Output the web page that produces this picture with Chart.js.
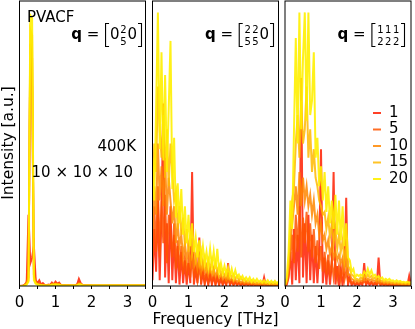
<!DOCTYPE html>
<html>
<head>
<meta charset="utf-8">
<script src="https://cdn.jsdelivr.net/npm/chart.js@4.4.0/dist/chart.umd.min.js"></script>
<style>
  body { margin: 0; background: #fff; width: 415px; height: 329px; position: relative; overflow: hidden; }
  canvas { position: absolute; top: 0; }
</style>
</head>
<body>
<canvas id="c1" width="160" height="329" style="left:0px"></canvas>
<canvas id="c2" width="146" height="329" style="left:146px"></canvas>
<canvas id="c3" width="136" height="329" style="left:279px"></canvas>
<script>
// frequency grid [THz]
const freq = [
  0.00, 0.05, 0.10, 0.15, 0.20, 0.25, 0.30, 0.35, 0.40, 0.45,
  0.50, 0.55, 0.60, 0.65, 0.70, 0.75, 0.80, 0.85, 0.90, 0.95,
  1.00, 1.05, 1.10, 1.15, 1.20, 1.25, 1.30, 1.35, 1.40, 1.45,
  1.50, 1.55, 1.60, 1.65, 1.70, 1.75, 1.80, 1.85, 1.90, 1.95,
  2.00, 2.05, 2.10, 2.15, 2.20, 2.25, 2.30, 2.35, 2.40, 2.45,
  2.50, 2.55, 2.60, 2.65, 2.70, 2.75, 2.80, 2.85, 2.90, 2.95,
  3.00, 3.05, 3.10, 3.15, 3.20, 3.25, 3.30, 3.35, 3.40, 3.45,
  3.50
];
const runs = ['1', '5', '10', '15', '20'];
const runColors = ['rgba(255,30,0,0.85)', 'rgba(255,85,0,0.85)', 'rgba(255,135,0,0.85)', 'rgba(255,185,0,0.85)', 'rgba(255,240,0,0.9)'];
const xTicks = [0, 1, 2, 3];

// panel A: q = [0 2/5 0]
const qA_1 = [
  0, 0.1, 0.2, 0.5, 1, 25, 8, 10, 14, 2,
  1, 2, 0.5, 1, 0.4, 0.2, 0.5, 0.3, 1.2, 0.5,
  1.5, 0.8, 1.2, 0.3, 0.2, 0.3, 0.2, 0.3, 0.2, 0.2,
  0.2, 0.3, 0.5, 2.5, 1, 0.3, 0.2, 0.2, 0.2, 0.2,
  0.1, 0.1, 0.1, 0.1, 0.1, 0.1, 0.1, 0.1, 0.1, 0.1,
  0.1, 0.1, 0.1, 0.1, 0.1, 0.1, 0.1, 0.1, 0.1, 0.1,
  0.1, 0.1, 0.1, 0.1, 0.1, 0.1, 0.1, 0.1, 0.1, 0.1,
  0.1
];
const qA_5 = [
  0, 0, 0.1, 0.5, 1.5, 6, 80, 70, 6, 1.5,
  1, 0.8, 0.5, 0.4, 0.3, 0.2, 0.3, 0.4, 0.8, 0.7,
  1, 0.8, 0.8, 0.4, 0.2, 0.2, 0.2, 0.2, 0.2, 0.2,
  0.2, 0.2, 0.5, 1.2, 0.8, 0.3, 0.2, 0.2, 0.2, 0.2,
  0.15, 0.15, 0.15, 0.15, 0.15, 0.15, 0.15, 0.15, 0.15, 0.15,
  0.15, 0.15, 0.15, 0.15, 0.15, 0.15, 0.15, 0.15, 0.15, 0.15,
  0.15, 0.15, 0.15, 0.15, 0.15, 0.15, 0.15, 0.15, 0.15, 0.15,
  0.15
];
const qA_10 = [
  0, 0, 0, 0.4, 1, 3, 85, 80, 4, 1.2,
  0.8, 0.5, 0.4, 0.3, 0.3, 0.2, 0.3, 0.3, 0.6, 0.6,
  0.8, 0.6, 0.6, 0.3, 0.2, 0.2, 0.2, 0.2, 0.2, 0.2,
  0.2, 0.2, 0.4, 0.9, 0.7, 0.3, 0.2, 0.2, 0.2, 0.2,
  0.2, 0.2, 0.2, 0.2, 0.2, 0.2, 0.2, 0.2, 0.2, 0.2,
  0.2, 0.2, 0.2, 0.2, 0.2, 0.2, 0.2, 0.2, 0.2, 0.2,
  0.2, 0.2, 0.2, 0.2, 0.2, 0.2, 0.2, 0.2, 0.2, 0.2,
  0.2
];
const qA_15 = [
  0, 0, 0, 0.3, 0.8, 2, 90, 88, 3, 1,
  0.6, 0.4, 0.3, 0.3, 0.2, 0.2, 0.2, 0.3, 0.5, 0.5,
  0.6, 0.5, 0.5, 0.3, 0.2, 0.2, 0.2, 0.2, 0.2, 0.2,
  0.2, 0.2, 0.3, 0.7, 0.6, 0.2, 0.2, 0.2, 0.2, 0.2,
  0.2, 0.2, 0.2, 0.2, 0.2, 0.2, 0.2, 0.2, 0.2, 0.2,
  0.2, 0.2, 0.2, 0.2, 0.2, 0.2, 0.2, 0.2, 0.2, 0.2,
  0.2, 0.2, 0.2, 0.2, 0.2, 0.2, 0.2, 0.2, 0.2, 0.2,
  0.2
];
const qA_20 = [
  0, 0, 0, 0.2, 0.5, 1.5, 95, 94, 2, 0.8,
  0.5, 0.3, 0.3, 0.2, 0.2, 0.2, 0.2, 0.2, 0.4, 0.4,
  0.5, 0.4, 0.4, 0.2, 0.2, 0.2, 0.2, 0.2, 0.2, 0.2,
  0.2, 0.2, 0.2, 0.5, 0.5, 0.2, 0.2, 0.2, 0.2, 0.2,
  0.2, 0.2, 0.2, 0.2, 0.2, 0.2, 0.2, 0.2, 0.2, 0.2,
  0.2, 0.2, 0.2, 0.2, 0.2, 0.2, 0.2, 0.2, 0.2, 0.2,
  0.2, 0.2, 0.2, 0.2, 0.2, 0.2, 0.2, 0.2, 0.2, 0.2,
  0.2
];

// panel B: q = [2/5 2/5 0]
const qB_1 = [
  2, 20, 5, 30, 2, 25, 64, 3, 22, 1,
  28, 2, 18, 1, 14, 0.5, 12, 1, 9, 0.5,
  8, 1, 40, 0.5, 6, 1, 17, 0.5, 5, 0.5,
  4, 0.3, 4, 0.5, 3.5, 0.3, 3, 0.3, 2.5, 0.3,
  2, 0.2, 8, 0.2, 1.8, 0.2, 1.5, 0.2, 1.2, 0.1,
  1, 0.1, 0.9, 0.1, 0.8, 0.1, 0.7, 0.1, 0.6, 0.1,
  0.6, 0.1, 3, 0.1, 0.5, 0.1, 0.4, 0.1, 0.4, 0.1,
  0.3
];
const qB_5 = [
  8, 28, 12, 35, 10, 30, 15, 32, 8, 25,
  18, 10, 22, 6, 16, 5, 14, 4, 10, 4,
  9, 3, 10, 3, 7, 2, 7, 2, 6, 1.5,
  5, 1.5, 5, 1.5, 4, 1, 4, 1, 3, 1,
  2.5, 0.8, 2, 0.8, 2, 0.6, 1.5, 0.6, 1.3, 0.5,
  1.1, 0.4, 1, 0.4, 0.8, 0.3, 0.8, 0.3, 0.6, 0.3,
  0.6, 0.2, 0.5, 0.2, 0.5, 0.2, 0.4, 0.2, 0.4, 0.2,
  0.3
];
const qB_10 = [
  20, 35, 25, 50, 30, 42, 28, 45, 25, 38,
  30, 22, 28, 15, 22, 14, 18, 10, 15, 9,
  13, 8, 12, 7, 10, 6, 9, 5, 8, 5,
  7, 4, 6, 4, 6, 3.5, 5, 3, 4, 2.5,
  3.5, 2, 3, 2, 2.5, 1.5, 2.2, 1.5, 2, 1.2,
  1.6, 1, 1.4, 0.9, 1.2, 0.8, 1.1, 0.7, 1, 0.6,
  0.9, 0.6, 0.8, 0.5, 0.7, 0.5, 0.7, 0.4, 0.6, 0.4,
  0.5
];
const qB_15 = [
  30, 50, 40, 70, 55, 45, 60, 38, 55, 35,
  50, 40, 30, 33, 20, 28, 18, 24, 14, 20,
  12, 18, 11, 14, 9, 13, 8, 12, 7, 10,
  6, 9, 6, 9, 5, 8, 5, 7, 4, 5.5,
  3.5, 5, 3, 4.5, 3, 4, 2.5, 3.5, 2, 3,
  2, 2.5, 1.5, 2, 1.5, 2, 1.2, 1.8, 1, 1.5,
  1, 1.5, 1, 1.3, 0.8, 1.2, 0.8, 1.2, 0.7, 1,
  0.8
];
const qB_20 = [
  45, 30, 62, 96, 48, 82, 44, 74, 40, 62,
  86, 34, 52, 24, 36, 22, 34, 18, 28, 15,
  25, 14, 22, 12, 17, 10, 16, 9, 14, 8,
  12, 7, 13, 7, 12, 6, 13, 5, 8, 4.5,
  7, 4, 6.5, 3.5, 6, 3, 5.5, 3, 4, 2.5,
  3.5, 2, 3, 2, 3, 1.5, 2.5, 1.5, 2.5, 1.5,
  2, 1.2, 2, 1.2, 2, 1, 1.8, 1, 1.8, 1,
  1.5
];

// panel C: q = [1/2 1/2 1/2]
const qC_1 = [
  0, 0.5, 3, 12, 0.5, 20, 2, 18, 1, 73,
  3, 22, 1, 25, 2, 18, 1, 14, 1, 12,
  48, 1, 10, 0.5, 9, 0.5, 8, 40, 0.5, 7,
  0.5, 6, 0.3, 5, 31, 0.3, 3, 0.2, 1.2, 0.2,
  1, 0.2, 1, 0.3, 8, 0.3, 1.5, 0.3, 1.2, 0.2,
  1, 0.2, 10, 0.2, 0.8, 0.1, 0.7, 0.1, 0.6, 0.1,
  0.5, 0.1, 0.5, 0.1, 0.4, 0.1, 0.4, 0.1, 0.3, 3.5,
  0.3
];
const qC_5 = [
  0.1, 1, 4, 10, 18, 8, 25, 12, 28, 10,
  24, 15, 26, 12, 22, 10, 20, 8, 16, 6,
  14, 5, 12, 4, 11, 3, 9, 3, 8, 2.5,
  7, 2, 7, 2, 5, 1.5, 2.5, 1, 1.5, 0.8,
  1.2, 0.8, 1.4, 1, 1.6, 1, 1.8, 1, 1.5, 0.8,
  1.3, 0.6, 1.1, 0.5, 0.9, 0.4, 0.8, 0.4, 0.7, 0.3,
  0.6, 0.3, 0.6, 0.3, 0.5, 0.2, 0.5, 0.2, 0.4, 0.2,
  0.3
];
const qC_10 = [
  0.2, 1.5, 6, 15, 22, 28, 35, 25, 40, 28,
  38, 30, 35, 28, 32, 25, 30, 22, 25, 18,
  22, 16, 18, 13, 16, 11, 14, 10, 12, 9,
  11, 8, 10, 6, 9, 4, 4, 2.5, 2.2, 1.6,
  1.8, 1.5, 2, 1.8, 2.4, 2, 2.6, 2, 2.4, 1.8,
  2, 1.4, 1.7, 1.2, 1.4, 1, 1.2, 0.9, 1.1, 0.8,
  1, 0.7, 0.9, 0.7, 0.8, 0.6, 0.7, 0.5, 0.7, 0.5,
  0.5
];
const qC_15 = [
  0.3, 2, 8, 20, 30, 35, 50, 60, 45, 65,
  50, 55, 70, 45, 55, 40, 48, 38, 35, 30,
  28, 25, 26, 20, 24, 17, 22, 15, 20, 13,
  18, 12, 16, 9, 14, 7, 6, 4, 3.5, 2.5,
  2.5, 2, 3, 2.5, 3.5, 3, 4, 3, 3.5, 2.5,
  3, 2, 2.5, 1.8, 2, 1.5, 1.8, 1.3, 1.6, 1.2,
  1.4, 1, 1.3, 1, 1.2, 0.8, 1, 0.8, 1, 0.7,
  0.8
];
const qC_20 = [
  0.5, 3, 12, 30, 20, 55, 87, 50, 96, 55,
  80, 96, 58, 96, 60, 65, 82, 45, 52, 35,
  42, 30, 40, 26, 35, 22, 30, 20, 32, 18,
  30, 16, 28, 14, 22, 10, 9, 5, 6, 3,
  4, 3.5, 4, 3.5, 5, 4, 6, 4, 5.5, 3.5,
  4, 3, 3.5, 2.5, 3, 2, 2.5, 2, 2.5, 1.8,
  2, 1.5, 2, 1.5, 1.8, 1.3, 1.5, 1.2, 1.5, 1.2,
  1.3
];

const FONT = "'DejaVu Sans', sans-serif";
Chart.defaults.font.family = FONT;
Chart.defaults.font.size = 15;
Chart.defaults.color = '#000';

// black box around each panel
const frame = {
  id: 'frame',
  afterDraw(chart) {
    const { ctx, chartArea: a } = chart;
    ctx.save();
    ctx.strokeStyle = '#000';
    ctx.lineWidth = 1;
    ctx.strokeRect(a.left, a.top, a.right - a.left, a.bottom - a.top);
    ctx.restore();
  }
};

// q = [ ... ] label, right aligned at xr
function drawQ(ctx, xr, parts) {
  const big = '15px ' + FONT, bold = 'bold 15px ' + FONT, small = '10px ' + FONT;
  const base = 39;
  const items = [];
  ctx.font = bold; items.push({ k: 'b', s: 'q', w: ctx.measureText('q').width });
  ctx.font = big; items.push({ k: 't', s: ' = ', w: ctx.measureText(' = ').width });
  items.push({ k: 'lb', w: 6 });
  parts.forEach(p => {
    if (Array.isArray(p)) {
      ctx.font = small;
      const w = Math.max(ctx.measureText(p[0]).width, ctx.measureText(p[1]).width);
      items.push({ k: 'f', n: p[0], d: p[1], w: w + 1.5 });
    } else {
      ctx.font = big; items.push({ k: 't', s: p, w: ctx.measureText(p).width });
    }
  });
  items.push({ k: 'rb', w: 6 });
  let x = xr - items.reduce((s, it) => s + it.w, 0);
  ctx.save();
  ctx.fillStyle = '#000'; ctx.strokeStyle = '#000'; ctx.lineWidth = 1.1;
  ctx.textBaseline = 'alphabetic';
  items.forEach(it => {
    if (it.k === 'b' || it.k === 't') {
      ctx.font = it.k === 'b' ? bold : big; ctx.textAlign = 'left';
      ctx.fillText(it.s, x, base);
    } else if (it.k === 'f') {
      ctx.font = small; ctx.textAlign = 'center';
      ctx.fillText(it.n, x + it.w / 2, 33);
      ctx.fillText(it.d, x + it.w / 2, 45);
    } else if (it.k === 'lb') {
      ctx.beginPath();
      ctx.moveTo(x + 5, 23.5); ctx.lineTo(x + 1.5, 23.5); ctx.lineTo(x + 1.5, 46.5); ctx.lineTo(x + 5, 46.5);
      ctx.stroke();
    } else {
      ctx.beginPath();
      ctx.moveTo(x + 1, 23.5); ctx.lineTo(x + 4.5, 23.5); ctx.lineTo(x + 4.5, 46.5); ctx.lineTo(x + 1, 46.5);
      ctx.stroke();
    }
    x += it.w;
  });
  ctx.restore();
}

function makeChart(id, series, pad, xTitle, extra) {
  const datasets = series.map((vals, k) => ({
    label: runs[k],
    data: vals.map((v, i) => ({ x: freq[i], y: v })),
    borderColor: runColors[k],
    borderWidth: 2,
    pointRadius: 0,
    tension: 0,
    order: series.length - 1 - k
  }));
  return new Chart(document.getElementById(id), {
    type: 'line',
    data: { datasets },
    options: {
      responsive: false,
      animation: false,
      devicePixelRatio: 1,
      layout: { padding: pad, autoPadding: false },
      plugins: { legend: { display: false }, tooltip: { enabled: false } },
      scales: {
        x: {
          type: 'linear', min: 0, max: 3.5,
          border: { display: false },
          grid: { drawOnChartArea: false, drawTicks: true, tickLength: 3, tickColor: '#000' },
          ticks: {
            stepSize: 0.5, autoSkip: false, maxRotation: 0, padding: 5, color: '#000',
            callback: v => xTicks.includes(v) ? String(v) : ''
          },
          title: { display: !!xTitle, text: xTitle || '', font: { size: 15.5, lineHeight: 1 }, padding: { top: 0, bottom: 0 }, color: '#000' },
          afterFit: s => { s.paddingLeft = 0; s.paddingRight = 0; s.height = xTitle ? 41.5 : 26; }
        },
        y: { display: false, min: 0, max: 100 }
      }
    },
    plugins: [frame, extra]
  });
}

const textA = {
  id: 'textA',
  afterDraw(chart) {
    const { ctx, chartArea: a } = chart;
    ctx.save();
    ctx.fillStyle = '#000';
    ctx.font = '15px ' + FONT;
    ctx.textAlign = 'left';
    ctx.fillText('PVACF', a.left + 7.5, 21.5);
    ctx.textAlign = 'right';
    ctx.fillText('400K', a.right - 9.5, 150.5);
    ctx.fillText('10 × 10 × 10', a.right - 12.5, 177);
    ctx.translate(8.5, 143);
    ctx.rotate(-Math.PI / 2);
    ctx.textAlign = 'center';
    ctx.textBaseline = 'middle';
    ctx.font = '15.5px ' + FONT;
    ctx.fillText('Intensity [a.u.]', 0, 0);
    ctx.restore();
    drawQ(ctx, a.right - 2.5, ['0', ['2', '5'], '0']);
  }
};
const textB = {
  id: 'textB',
  afterDraw(chart) {
    drawQ(chart.ctx, chart.chartArea.right - 3.5, [['2', '5'], ['2', '5'], '0']);
  }
};
const textC = {
  id: 'textC',
  afterDraw(chart) {
    const { ctx, chartArea: a } = chart;
    drawQ(ctx, a.right - 5, [['1', '2'], ['1', '2'], ['1', '2']]);
    const rows = [113, 129.5, 146, 162.5, 179];
    ctx.save();
    ctx.font = '15px ' + FONT;
    ctx.textAlign = 'left';
    ctx.textBaseline = 'middle';
    runs.forEach((r, k) => {
      ctx.strokeStyle = runColors[k];
      ctx.lineWidth = 2;
      ctx.beginPath();
      ctx.moveTo(a.right - 38, rows[k]);
      ctx.lineTo(a.right - 30, rows[k]);
      ctx.stroke();
      ctx.fillStyle = '#000';
      ctx.fillText(r, a.right - 22, rows[k]);
    });
    ctx.restore();
  }
};

makeChart('c1', [qA_1, qA_5, qA_10, qA_15, qA_20], { left: 19.5, right: 14.5, top: 1, bottom: 17 }, null, textA);
makeChart('c2', [qB_1, qB_5, qB_10, qB_15, qB_20], { left: 6.5, right: 13.5, top: 1, bottom: 1.5 }, 'Frequency [THz]', textB);
makeChart('c3', [qC_1, qC_5, qC_10, qC_15, qC_20], { left: 6, right: 4, top: 1, bottom: 17 }, null, textC);
</script>
</body>
</html>
